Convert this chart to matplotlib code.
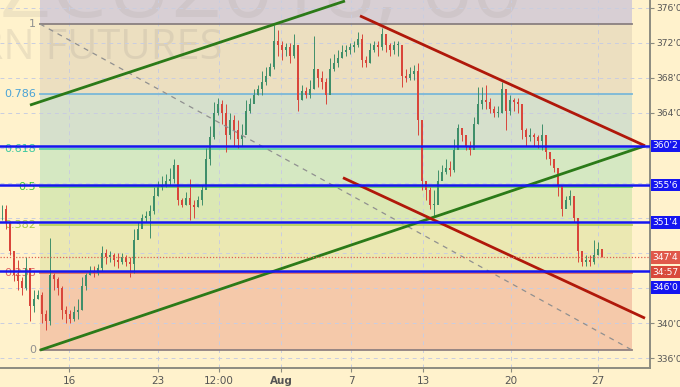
import numpy as np
import matplotlib
matplotlib.use("Agg")
from matplotlib import pyplot as plt
from matplotlib.transforms import blended_transform_factory

# 60 min bars, prices in cents (quoted in 1/8)
close = [353.0, 351.5, 348.25, 345.5, 344.75, 344.0, 346.25, 342.0, 342.75, 343.25,
         341.0, 340.25, 345.5, 345.0, 344.0, 341.5, 341.0, 340.5, 341.25, 341.5,
         344.25, 345.5, 346.0, 345.75, 346.25, 348.0, 347.5, 347.75, 347.25, 347.0,
         347.5, 347.0, 346.75, 349.5, 350.75, 352.0, 352.25, 352.75, 354.5, 355.5,
         355.75, 356.25, 356.5, 358.0, 354.0, 353.5, 354.25, 353.5, 353.25, 354.0,
         355.25, 358.75, 361.25, 364.0, 365.0, 364.0, 361.5, 363.25, 362.0, 361.0,
         361.5, 364.25, 365.0, 366.0, 366.75, 367.5, 368.25, 369.25, 372.25, 371.75,
         371.25, 371.5, 370.5, 371.75, 365.5, 366.5, 366.0, 366.75, 369.0, 368.0,
         367.5, 366.0, 369.0, 369.75, 370.25, 371.0, 371.25, 371.5, 371.75, 372.5,
         370.0, 369.75, 371.25, 371.75, 371.5, 373.0, 371.75, 371.25, 371.75, 371.75,
         368.25, 368.0, 368.5, 368.75, 363.25, 356.25, 355.25, 353.5, 353.5, 356.25,
         357.25, 357.75, 357.5, 359.75, 362.25, 361.5, 360.25, 359.75, 362.75, 365.0,
         365.5, 365.25, 364.5, 364.0, 364.0, 366.75, 364.25, 365.5, 365.25, 365.0,
         362.0, 361.25, 361.5, 361.25, 360.75, 361.5, 359.5, 358.75, 357.75, 355.75,
         353.0, 354.0, 354.5, 352.0, 348.25, 347.0, 347.25, 347.0, 347.75, 348.5,
         347.5]
high = [353.5, 353.5, 351.5, 348.25, 347.25, 345.25, 347.5, 346.25, 343.75, 343.75,
        343.5, 341.5, 349.75, 345.75, 345.25, 344.25, 342.0, 341.5, 342.0, 342.75,
        345.25, 345.75, 346.5, 346.5, 346.75, 348.75, 348.5, 348.25, 348.0, 348.0,
        348.0, 347.75, 347.5, 350.75, 351.5, 352.5, 352.75, 353.5, 355.5, 356.25,
        356.75, 357.0, 357.75, 358.75, 357.75, 354.25, 355.0, 356.5, 354.0, 354.5,
        355.75, 360.0, 362.5, 365.25, 365.75, 365.5, 365.0, 364.0, 363.75, 363.25,
        362.75, 365.5, 365.75, 366.75, 367.25, 368.75, 369.25, 369.75, 374.0, 373.5,
        372.25, 372.0, 372.0, 373.0, 371.25, 367.25, 367.0, 367.75, 372.75, 369.0,
        368.75, 368.0, 370.25, 370.75, 371.25, 371.75, 371.75, 372.0, 372.25, 373.25,
        373.0, 370.5, 372.0, 372.25, 372.25, 373.75, 372.5, 372.0, 372.25, 372.25,
        371.75, 369.0, 369.25, 369.5, 369.75, 362.0, 356.25, 355.5, 355.25, 357.5,
        358.0, 358.75, 358.5, 361.0, 362.75, 362.25, 361.5, 360.75, 363.5, 367.0,
        367.0, 367.25, 365.75, 364.75, 364.75, 367.5, 366.75, 366.0, 365.75, 365.75,
        364.25, 362.25, 362.25, 361.75, 361.5, 362.75, 361.0, 359.5, 358.75, 357.75,
        355.5, 354.5, 355.25, 354.5, 351.75, 348.25, 347.75, 347.75, 349.5, 349.25,
        348.25]
low = [351.75, 350.75, 347.75, 344.75, 343.75, 343.25, 343.75, 340.25, 341.25, 342.75,
       340.0, 339.25, 339.75, 343.75, 343.25, 340.5, 340.0, 340.0, 340.25, 340.5,
       341.5, 343.75, 345.5, 345.25, 345.5, 346.0, 346.75, 347.0, 346.5, 346.25,
       346.75, 346.5, 345.25, 345.75, 350.25, 351.25, 351.5, 349.75, 352.5, 354.5,
       355.25, 355.5, 355.75, 356.0, 353.5, 353.25, 353.5, 351.75, 352.0, 353.25,
       353.5, 355.5, 358.0, 361.0, 363.75, 362.75, 359.5, 361.0, 360.25, 360.0,
       360.25, 363.5, 364.0, 365.5, 366.0, 366.0, 367.25, 368.25, 369.0, 370.5,
       370.0, 370.5, 369.75, 370.25, 364.25, 365.5, 365.75, 365.75, 366.75, 367.0,
       366.75, 365.0, 366.75, 368.75, 369.25, 370.25, 370.5, 370.75, 371.0, 371.5,
       369.25, 369.25, 369.75, 371.0, 370.5, 371.25, 371.0, 370.5, 370.75, 370.5,
       367.0, 367.5, 367.75, 367.75, 361.5, 355.25, 354.0, 353.0, 352.25, 354.5,
       356.5, 357.0, 356.75, 357.25, 361.0, 360.75, 359.75, 359.25, 360.0, 362.75,
       364.5, 364.5, 364.0, 363.5, 363.5, 364.0, 362.0, 363.75, 364.25, 364.0,
       361.0, 360.25, 360.75, 360.25, 360.0, 359.75, 358.75, 358.0, 357.25, 354.5,
       352.25, 353.25, 353.5, 351.5, 347.0, 346.5, 346.5, 346.5, 346.75, 347.75,
       347.5]

# fibonacci retracement anchors
fib_low = 336.91
fib_high = 374.17
fib_ratios = [0, 0.236, 0.382, 0.5, 0.618, 0.786, 1]
fib_labels = ["0", "0.236", "0.382", "0.5", "0.618", "0.786", "1"]

# horizontal support / resistance
blue_levels = [360.25, 355.75, 351.5, 346.0]
last_price = 347.5
timer_text = "34:57"

# trend lines (bar index, price)
green_up = [(7, 364.9), (85.75, 376.8)]
green_low = [(9.5, 336.9), (160.75, 360.25)]
red_up = [(89.5, 375.1), (160.75, 360.25)]
red_low = [(85.25, 356.6), (160.75, 340.55)]
fib_diag = [(9.5, 374.17), (157.5, 336.91)]

tick_pos = [16.75, 39, 54.25, 69.75, 87.25, 105.25, 127.25, 149]
tick_lab = ["16", "23", "12:00", "Aug", "7", "13", "20", "27"]
price_ticks = list(range(336, 380, 4))
hidden_ticks = [344, 348, 352, 356, 360]   # covered by the price boxes


def fmt(v):
    return "%d'%d" % (int(v), int(round((v % 1) * 8)))


bg = "#fff2cc"
fig = plt.figure(figsize=(6.8, 3.87), dpi=100, facecolor=bg)
ax = fig.add_axes([0, 19 / 387, 650 / 680, 368 / 387])
ax.set_facecolor(bg)
ax.set_xlim(-0.5, 162)
ax.set_ylim(334.86, 376.91)

# watermark
ax.text(0.0, 0.955, "ZCU2018, 60", transform=ax.transAxes, fontsize=64,
        color="#a09890", alpha=0.16, va="baseline", ha="left", zorder=0.5,
        family="Open Sans", clip_on=True)
ax.text(0.342, 0.87, "CORN FUTURES", transform=ax.transAxes, fontsize=30,
        color="#a09890", alpha=0.2, va="center", ha="right", zorder=0.5,
        family="Open Sans", clip_on=True)

# fib zones
zone_cols = ["#f5c9aa", "#ebe8b2", "#dbe8b4", "#d5e8c2", "#d6e0cc", "#ecdfc0"]
line_cols = ["#908080", "#e07060", "#b8d060", "#66cc66", "#5ccfa8", "#7ab8d8", "#8a8080"]
lab_cols = ["#909090", "#e06060", "#a8c840", "#3cc83c", "#3cc8a0", "#4aa3d6", "#909090"]
fib_x = [9.5, 157.5]
lv = [fib_low + r * (fib_high - fib_low) for r in fib_ratios]
for k in range(len(zone_cols)):
    ax.fill_between(fib_x, lv[k], lv[k + 1], color=zone_cols[k], lw=0, zorder=0.3)
ax.fill_between(fib_x, lv[-1], 376.91, color="#d8cfd4", lw=0, zorder=0.3)
for k, y in enumerate(lv):
    ax.plot(fib_x, [y, y], color=line_cols[k], lw=1.3, zorder=0.8)
    ax.text(8.5, y, fib_labels[k], color=lab_cols[k], fontsize=8, ha="right",
            va="center", zorder=1)

# grid
for p in price_ticks:
    ax.axhline(p, color="#c9cde0", lw=0.7, ls=(0, (4, 4)), zorder=0.6)
for t in tick_pos:
    ax.axvline(t, color="#c9cde0", lw=0.7, ls=(0, (4, 4)), zorder=0.6)

# candles
x = np.arange(len(close))
opn = [close[0]] + close[:-1]
for i in x:
    up = close[i] >= opn[i]
    c = "#3f8f6a" if up else "#d9453a"
    ax.vlines(i, low[i], high[i], color=c, lw=0.7, zorder=2)
    b0 = min(opn[i], close[i])
    h = max(abs(close[i] - opn[i]), 0.08)
    ax.bar(i, h, bottom=b0, width=0.55, color=c, lw=0, zorder=2.1)

# trend lines
ax.plot(*zip(*fib_diag), color="#909090", lw=0.9, ls=(0, (4, 4)), zorder=2.5)
for ln, col in [(green_up, "#2b7a18"), (green_low, "#2b7a18"),
                (red_up, "#b0180a"), (red_low, "#b0180a")]:
    ax.plot(*zip(*ln), color=col, lw=2.0, zorder=3, solid_capstyle="butt")

# levels
for lvl in blue_levels:
    ax.axhline(lvl, color="#1515f0", lw=1.8, zorder=3.2)
ax.axhline(last_price, color="#e06050", lw=0.9, ls=(0, (1, 1.5)), zorder=3.1)

# axes styling
for s in ["left", "top"]:
    ax.spines[s].set_visible(False)
for s in ["right", "bottom"]:
    ax.spines[s].set_color("#8c8c80")
    ax.spines[s].set_linewidth(1.4)
ax.yaxis.tick_right()
ax.set_yticks(price_ticks)
ax.set_yticklabels(["" if p in hidden_ticks else fmt(p) for p in price_ticks])
ax.set_xticks(tick_pos)
ax.set_xticklabels(tick_lab)
ax.tick_params(axis="y", colors="#8c8c80", labelcolor="#555555", labelsize=6.6,
               length=3, pad=1.5)
ax.tick_params(axis="x", colors="#8c8c80", labelcolor="#555555", labelsize=7.5,
               length=3, pad=3)
for lab in ax.get_xticklabels():
    if lab.get_text() == "Aug":
        lab.set_fontweight("bold")

tr = blended_transform_factory(ax.transAxes, ax.transData)
box_pos = {360.25: 360.25, 355.75: 355.75, 351.5: 351.5, 346.0: 344.05}
box_kw = dict(transform=tr, color="white", fontsize=6.6, va="center", ha="left",
              zorder=10, clip_on=False)
for lvl in blue_levels:
    ax.text(1.004, box_pos[lvl], fmt(lvl),
            bbox=dict(boxstyle="square,pad=0.18", fc="#1515f0", ec="none"), **box_kw)
ax.text(1.004, last_price, fmt(last_price),
        bbox=dict(boxstyle="square,pad=0.18", fc="#e0594a", ec="none"), **box_kw)
ax.text(1.004, 345.8, timer_text,
        bbox=dict(boxstyle="square,pad=0.18", fc="#d8493b", ec="none"), **box_kw)

fig.savefig("out.png", dpi=100, facecolor=bg)
